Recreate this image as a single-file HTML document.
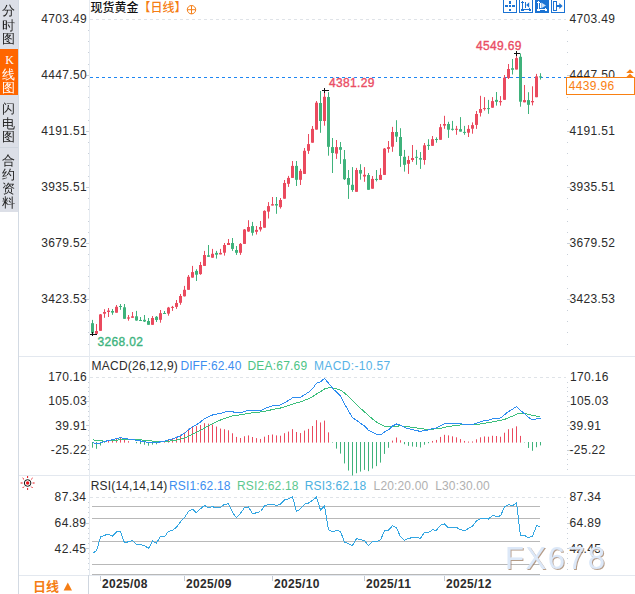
<!DOCTYPE html>
<html><head><meta charset="utf-8"><title>现货黄金 日线</title>
<style>
html,body{margin:0;padding:0;background:#fff;}
body{width:635px;height:594px;overflow:hidden;position:relative;}
svg{position:absolute;left:0;top:0;display:block;}
.n{font-family:"Liberation Sans",Arial,sans-serif;font-size:12px;fill:#2b2b2b;letter-spacing:0.35px;}
.cj{font-family:"Liberation Sans","Noto Sans CJK SC",sans-serif;}
.b{font-weight:bold;}
</style></head>
<body>
<svg width="635" height="594" viewBox="0 0 635 594">
<!-- sidebar -->
<rect x="0" y="0" width="18" height="212" fill="#dcdfe7"/>
<rect x="0" y="49" width="18" height="46" fill="#ff6600"/>
<rect x="0" y="147" width="18" height="1" fill="#cfd5de"/>
<rect x="18" y="0" width="1" height="594" fill="#d3dae3"/>
<g font-family="'Liberation Sans','WenQuanYi Zen Hei',sans-serif" font-size="13" fill="#222">
<text x="2" y="15.1">分</text><text x="2" y="30.25">时</text><text x="2" y="43.4">图</text>
<text x="2" y="113.15">闪</text><text x="2" y="127.75">电</text><text x="2" y="141.45">图</text>
<text x="2" y="165.05">合</text><text x="2" y="178.5">约</text><text x="2" y="192.95">资</text><text x="2" y="207.3">料</text>
</g>
<g font-size="13" fill="#fff">
<text x="5.2" y="63.8" font-family="Liberation Serif,serif" font-size="12">K</text>
<text x="2" y="79" font-family="'Liberation Sans','WenQuanYi Zen Hei',sans-serif">线</text><text x="2" y="92.2" font-family="'Liberation Sans','WenQuanYi Zen Hei',sans-serif">图</text>
</g>

<!-- panel dividers -->
<rect x="19" y="356" width="616" height="1" fill="#e3e8ef"/>
<rect x="19" y="475" width="616" height="1" fill="#e3e8ef"/>
<rect x="19" y="575" width="616" height="1" fill="#e3e8ef"/>
<rect x="88" y="575" width="1" height="19" fill="#cfd6df"/>
<!-- left axis line -->
<rect x="89" y="0" width="1" height="575" fill="#e6ebf1"/>

<!-- top dashed grid lines -->
<g stroke="#dfe3e8" stroke-width="1" stroke-dasharray="3,3">
<line x1="90" y1="19.5" x2="566" y2="19.5"/>
<line x1="90" y1="377.5" x2="566" y2="377.5"/>
<line x1="90" y1="497.5" x2="566" y2="497.5"/>
</g>

<!-- axis ticks -->
<g id="ticks" fill="#c9d0d9"><rect x="88" y="30" width="1" height="1"/><rect x="567" y="30" width="1" height="1"/><rect x="88" y="41" width="1" height="1"/><rect x="567" y="41" width="1" height="1"/><rect x="88" y="52" width="1" height="1"/><rect x="567" y="52" width="1" height="1"/><rect x="88" y="64" width="1" height="1"/><rect x="567" y="64" width="1" height="1"/><rect x="86" y="75" width="3" height="1"/><rect x="567" y="75" width="3" height="1"/><rect x="88" y="86" width="1" height="1"/><rect x="567" y="86" width="1" height="1"/><rect x="88" y="97" width="1" height="1"/><rect x="567" y="97" width="1" height="1"/><rect x="88" y="109" width="1" height="1"/><rect x="567" y="109" width="1" height="1"/><rect x="88" y="120" width="1" height="1"/><rect x="567" y="120" width="1" height="1"/><rect x="86" y="131" width="3" height="1"/><rect x="567" y="131" width="3" height="1"/><rect x="88" y="142" width="1" height="1"/><rect x="567" y="142" width="1" height="1"/><rect x="88" y="153" width="1" height="1"/><rect x="567" y="153" width="1" height="1"/><rect x="88" y="165" width="1" height="1"/><rect x="567" y="165" width="1" height="1"/><rect x="88" y="176" width="1" height="1"/><rect x="567" y="176" width="1" height="1"/><rect x="86" y="187" width="3" height="1"/><rect x="567" y="187" width="3" height="1"/><rect x="88" y="198" width="1" height="1"/><rect x="567" y="198" width="1" height="1"/><rect x="88" y="209" width="1" height="1"/><rect x="567" y="209" width="1" height="1"/><rect x="88" y="221" width="1" height="1"/><rect x="567" y="221" width="1" height="1"/><rect x="88" y="232" width="1" height="1"/><rect x="567" y="232" width="1" height="1"/><rect x="86" y="243" width="3" height="1"/><rect x="567" y="243" width="3" height="1"/><rect x="88" y="254" width="1" height="1"/><rect x="567" y="254" width="1" height="1"/><rect x="88" y="265" width="1" height="1"/><rect x="567" y="265" width="1" height="1"/><rect x="88" y="276" width="1" height="1"/><rect x="567" y="276" width="1" height="1"/><rect x="88" y="288" width="1" height="1"/><rect x="567" y="288" width="1" height="1"/><rect x="86" y="299" width="3" height="1"/><rect x="567" y="299" width="3" height="1"/><rect x="88" y="310" width="1" height="1"/><rect x="567" y="310" width="1" height="1"/><rect x="88" y="321" width="1" height="1"/><rect x="567" y="321" width="1" height="1"/><rect x="88" y="332" width="1" height="1"/><rect x="567" y="332" width="1" height="1"/><rect x="88" y="344" width="1" height="1"/><rect x="567" y="344" width="1" height="1"/><rect x="88" y="382" width="1" height="1"/><rect x="567" y="382" width="1" height="1"/><rect x="88" y="387" width="1" height="1"/><rect x="567" y="387" width="1" height="1"/><rect x="88" y="391" width="1" height="1"/><rect x="567" y="391" width="1" height="1"/><rect x="88" y="396" width="1" height="1"/><rect x="567" y="396" width="1" height="1"/><rect x="86" y="401" width="3" height="1"/><rect x="567" y="401" width="3" height="1"/><rect x="88" y="406" width="1" height="1"/><rect x="567" y="406" width="1" height="1"/><rect x="88" y="411" width="1" height="1"/><rect x="567" y="411" width="1" height="1"/><rect x="88" y="416" width="1" height="1"/><rect x="567" y="416" width="1" height="1"/><rect x="88" y="420" width="1" height="1"/><rect x="567" y="420" width="1" height="1"/><rect x="86" y="425" width="3" height="1"/><rect x="567" y="425" width="3" height="1"/><rect x="88" y="430" width="1" height="1"/><rect x="567" y="430" width="1" height="1"/><rect x="88" y="435" width="1" height="1"/><rect x="567" y="435" width="1" height="1"/><rect x="88" y="440" width="1" height="1"/><rect x="567" y="440" width="1" height="1"/><rect x="88" y="445" width="1" height="1"/><rect x="567" y="445" width="1" height="1"/><rect x="86" y="450" width="3" height="1"/><rect x="567" y="450" width="3" height="1"/><rect x="88" y="454" width="1" height="1"/><rect x="567" y="454" width="1" height="1"/><rect x="88" y="459" width="1" height="1"/><rect x="567" y="459" width="1" height="1"/><rect x="88" y="464" width="1" height="1"/><rect x="567" y="464" width="1" height="1"/><rect x="88" y="469" width="1" height="1"/><rect x="567" y="469" width="1" height="1"/><rect x="88" y="502" width="1" height="1"/><rect x="567" y="502" width="1" height="1"/><rect x="88" y="507" width="1" height="1"/><rect x="567" y="507" width="1" height="1"/><rect x="88" y="512" width="1" height="1"/><rect x="567" y="512" width="1" height="1"/><rect x="88" y="517" width="1" height="1"/><rect x="567" y="517" width="1" height="1"/><rect x="86" y="523" width="3" height="1"/><rect x="567" y="523" width="3" height="1"/><rect x="88" y="528" width="1" height="1"/><rect x="567" y="528" width="1" height="1"/><rect x="88" y="533" width="1" height="1"/><rect x="567" y="533" width="1" height="1"/><rect x="88" y="538" width="1" height="1"/><rect x="567" y="538" width="1" height="1"/><rect x="88" y="543" width="1" height="1"/><rect x="567" y="543" width="1" height="1"/><rect x="86" y="548" width="3" height="1"/><rect x="567" y="548" width="3" height="1"/><rect x="88" y="553" width="1" height="1"/><rect x="567" y="553" width="1" height="1"/><rect x="88" y="558" width="1" height="1"/><rect x="567" y="558" width="1" height="1"/><rect x="88" y="563" width="1" height="1"/><rect x="567" y="563" width="1" height="1"/><rect x="88" y="569" width="1" height="1"/><rect x="567" y="569" width="1" height="1"/></g>

<!-- left labels main -->
<g class="n" text-anchor="end">
<text x="87" y="23">4703.49</text>
<text x="87" y="79">4447.50</text>
<text x="87" y="135">4191.51</text>
<text x="87" y="191">3935.51</text>
<text x="87" y="247">3679.52</text>
<text x="87" y="303">3423.53</text>
<text x="87" y="381.3">170.16</text>
<text x="87" y="405">105.03</text>
<text x="87" y="430.3">39.91</text>
<text x="87" y="454.3">-25.22</text>
<text x="86.4" y="501">87.34</text>
<text x="86.4" y="527">64.89</text>
<text x="86.4" y="552.5">42.45</text>
</g>

<!-- right labels -->
<g class="n">
<text x="569.5" y="23">4703.49</text>
<text x="569.5" y="79">4447.50</text>
<text x="569.5" y="135">4191.51</text>
<text x="569.5" y="191">3935.51</text>
<text x="569.5" y="247">3679.52</text>
<text x="569.5" y="303">3423.53</text>
<text x="570" y="381.3">170.16</text>
<text x="570" y="405">105.03</text>
<text x="569.5" y="430.3">39.91</text>
<text x="569.5" y="454.3">-25.22</text>
<text x="569.5" y="501">87.34</text>
<text x="569.5" y="527">64.89</text>
<text x="569.5" y="552.5">42.45</text>
</g>

<!-- title -->
<text class="cj" x="90.5" y="11.8" font-size="12" font-weight="500" fill="#111">现货黄金<tspan fill="#f57d14">【日线】</tspan></text>
<g stroke="#f57d14" stroke-width="1" fill="none"><circle cx="191.5" cy="9.7" r="4.2"/><line x1="187.3" y1="9.7" x2="195.7" y2="9.7"/><line x1="191.5" y1="5.5" x2="191.5" y2="13.9"/></g>

<!-- toolbar -->
<g shape-rendering="crispEdges">
<rect x="503.5" y="-2.5" width="13" height="15" fill="#fff" stroke="#1b73d3"/>
<g fill="#1b73d3">
<rect x="509" y="1" width="2" height="2.5"/><rect x="509" y="5" width="2" height="2"/><rect x="509" y="8.5" width="2" height="2.5"/>
<rect x="505" y="5" width="3" height="2"/><rect x="512" y="5" width="3" height="2"/>
</g>
<rect x="519.5" y="-2.5" width="13" height="15" fill="#fff" stroke="#1b73d3"/>
<g fill="#1b73d3">
<rect x="522" y="1" width="1" height="10"/><rect x="521" y="9" width="10" height="1"/>
<rect x="521" y="2" width="3" height="1"/><rect x="521.5" y="1.5" width="2" height="1"/>
<rect x="529" y="8" width="1" height="3"/><rect x="530" y="8.5" width="1" height="2"/>
<rect x="521" y="10" width="3" height="1"/>
<rect x="525" y="2" width="1" height="6"/>
</g>
<path d="M529.2 2.3 L526.2 5 L529.2 7.7 Z" fill="#1b73d3" shape-rendering="auto"/>
<rect x="535" y="-3" width="14" height="16" fill="#1b73d3"/>
<g fill="#fff">
<rect x="538" y="1" width="1" height="10"/><rect x="537" y="9" width="10" height="1"/>
<rect x="537" y="2" width="3" height="1"/><rect x="537.5" y="1.5" width="2" height="1"/>
<rect x="545" y="8" width="1" height="3"/><rect x="546" y="8.5" width="1" height="2"/>
<rect x="537" y="10" width="3" height="1"/>
<rect x="540" y="3" width="1" height="5"/>
</g>
<path d="M541.3 2.5 L546 5.4 L541.3 8.3 Z" fill="#cfe2f8" shape-rendering="auto"/>
<rect x="551.5" y="-2.5" width="13" height="15" fill="#fff" stroke="#1b73d3"/>
<rect x="553.5" y="1.5" width="3" height="9" fill="none" stroke="#1b73d3"/>
<g fill="#1b73d3"><rect x="556" y="5" width="4" height="2"/></g>
<path d="M559.3 3 L562.6 6 L559.3 9 Z" fill="#1b73d3" shape-rendering="auto"/>
</g>

<!-- price line -->
<line x1="90" y1="77.5" x2="566" y2="77.5" stroke="#1e86f2" stroke-width="1" stroke-dasharray="3,3"/>

<!-- candles -->
<g id="candles">
<rect x="92" y="319.9" width="1" height="14.5" fill="#3fb27b"/>
<rect x="91" y="323.2" width="3" height="10.1" fill="#3fb27b"/>
<rect x="96" y="324" width="1" height="9.8" fill="#ea4a5e"/>
<rect x="95" y="331" width="3" height="2.8" fill="#ea4a5e"/>
<rect x="100" y="314" width="1" height="16.8" fill="#ea4a5e"/>
<rect x="99" y="314.4" width="3" height="16.4" fill="#ea4a5e"/>
<rect x="104" y="309.2" width="1" height="8.6" fill="#ea4a5e"/>
<rect x="103" y="312" width="3" height="1.7" fill="#ea4a5e"/>
<rect x="108" y="308" width="1" height="9" fill="#ea4a5e"/>
<rect x="107" y="310.6" width="3" height="1.4" fill="#ea4a5e"/>
<rect x="112" y="309" width="1" height="5.8" fill="#3fb27b"/>
<rect x="111" y="311" width="3" height="1.6" fill="#3fb27b"/>
<rect x="116" y="305" width="1" height="7.7" fill="#ea4a5e"/>
<rect x="115" y="306.8" width="3" height="5.9" fill="#ea4a5e"/>
<rect x="120" y="304" width="1" height="5.8" fill="#3fb27b"/>
<rect x="119" y="306" width="3" height="1" fill="#3fb27b"/>
<rect x="124" y="304" width="1" height="14.8" fill="#3fb27b"/>
<rect x="123" y="307.3" width="3" height="11.5" fill="#3fb27b"/>
<rect x="128" y="315" width="1" height="5.7" fill="#ea4a5e"/>
<rect x="127" y="317.4" width="3" height="1.2" fill="#ea4a5e"/>
<rect x="132" y="312" width="1" height="5.8" fill="#ea4a5e"/>
<rect x="131" y="316.3" width="3" height="1.5" fill="#ea4a5e"/>
<rect x="136" y="310.9" width="1" height="9.8" fill="#3fb27b"/>
<rect x="135" y="316.3" width="3" height="4.2" fill="#3fb27b"/>
<rect x="140" y="317" width="1" height="3.7" fill="#3fb27b"/>
<rect x="139" y="320" width="3" height="1" fill="#3fb27b"/>
<rect x="144" y="315" width="1" height="7" fill="#3fb27b"/>
<rect x="143" y="319.8" width="3" height="1.7" fill="#3fb27b"/>
<rect x="148" y="318" width="1" height="6.8" fill="#3fb27b"/>
<rect x="147" y="321" width="3" height="3.8" fill="#3fb27b"/>
<rect x="152" y="316" width="1" height="8.8" fill="#ea4a5e"/>
<rect x="151" y="318" width="3" height="6.8" fill="#ea4a5e"/>
<rect x="156" y="316" width="1" height="6" fill="#3fb27b"/>
<rect x="155" y="316.8" width="3" height="3.2" fill="#3fb27b"/>
<rect x="160" y="310" width="1" height="12.7" fill="#ea4a5e"/>
<rect x="159" y="313.2" width="3" height="6.6" fill="#ea4a5e"/>
<rect x="164" y="311" width="1" height="2.7" fill="#3fb27b"/>
<rect x="163" y="313" width="3" height="1" fill="#3fb27b"/>
<rect x="168" y="306.9" width="1" height="8.8" fill="#ea4a5e"/>
<rect x="167" y="307.6" width="3" height="6" fill="#ea4a5e"/>
<rect x="172" y="305.9" width="1" height="5" fill="#ea4a5e"/>
<rect x="171" y="306.9" width="3" height="1" fill="#ea4a5e"/>
<rect x="176" y="300" width="1" height="8.9" fill="#ea4a5e"/>
<rect x="175" y="303" width="3" height="3.9" fill="#ea4a5e"/>
<rect x="180" y="294" width="1" height="10.8" fill="#ea4a5e"/>
<rect x="179" y="296" width="3" height="6.8" fill="#ea4a5e"/>
<rect x="184" y="285.9" width="1" height="10.6" fill="#ea4a5e"/>
<rect x="183" y="289.8" width="3" height="6.5" fill="#ea4a5e"/>
<rect x="188" y="275" width="1" height="14.8" fill="#ea4a5e"/>
<rect x="187" y="276.8" width="3" height="13" fill="#ea4a5e"/>
<rect x="192" y="265.9" width="1" height="11.7" fill="#ea4a5e"/>
<rect x="191" y="272.1" width="3" height="5.5" fill="#ea4a5e"/>
<rect x="196" y="269.2" width="1" height="11.8" fill="#3fb27b"/>
<rect x="195" y="270.9" width="3" height="3.8" fill="#3fb27b"/>
<rect x="200" y="261.9" width="1" height="12.9" fill="#ea4a5e"/>
<rect x="199" y="265" width="3" height="9.1" fill="#ea4a5e"/>
<rect x="204" y="250.9" width="1" height="15" fill="#ea4a5e"/>
<rect x="203" y="255" width="3" height="10.9" fill="#ea4a5e"/>
<rect x="208" y="245" width="1" height="11.8" fill="#3fb27b"/>
<rect x="207" y="255.3" width="3" height="1.5" fill="#3fb27b"/>
<rect x="212" y="248.9" width="1" height="8.8" fill="#ea4a5e"/>
<rect x="211" y="253.8" width="3" height="3.9" fill="#ea4a5e"/>
<rect x="216" y="250.9" width="1" height="7.7" fill="#3fb27b"/>
<rect x="215" y="252.9" width="3" height="1.8" fill="#3fb27b"/>
<rect x="220" y="248.9" width="1" height="5.5" fill="#ea4a5e"/>
<rect x="219" y="252.9" width="3" height="1.5" fill="#ea4a5e"/>
<rect x="224" y="243" width="1" height="12.6" fill="#ea4a5e"/>
<rect x="223" y="245" width="3" height="7.7" fill="#ea4a5e"/>
<rect x="228" y="239" width="1" height="6" fill="#ea4a5e"/>
<rect x="227" y="243" width="3" height="2" fill="#ea4a5e"/>
<rect x="232" y="238" width="1" height="12.9" fill="#3fb27b"/>
<rect x="231" y="243" width="3" height="5.9" fill="#3fb27b"/>
<rect x="236" y="246" width="1" height="8.9" fill="#3fb27b"/>
<rect x="235" y="250" width="3" height="2.8" fill="#3fb27b"/>
<rect x="240" y="243" width="1" height="11.9" fill="#ea4a5e"/>
<rect x="239" y="243.9" width="3" height="8.9" fill="#ea4a5e"/>
<rect x="244" y="229" width="1" height="14.9" fill="#ea4a5e"/>
<rect x="243" y="229.5" width="3" height="14.4" fill="#ea4a5e"/>
<rect x="248" y="220.2" width="1" height="11.6" fill="#ea4a5e"/>
<rect x="247" y="227" width="3" height="4.5" fill="#ea4a5e"/>
<rect x="252" y="221.9" width="1" height="13.7" fill="#3fb27b"/>
<rect x="251" y="226.1" width="3" height="6.7" fill="#3fb27b"/>
<rect x="256" y="226" width="1" height="8.5" fill="#ea4a5e"/>
<rect x="255" y="229.9" width="3" height="1.9" fill="#ea4a5e"/>
<rect x="260" y="221" width="1" height="10.5" fill="#ea4a5e"/>
<rect x="259" y="227" width="3" height="2.5" fill="#ea4a5e"/>
<rect x="264" y="210.3" width="1" height="17.4" fill="#ea4a5e"/>
<rect x="263" y="210.9" width="3" height="16.8" fill="#ea4a5e"/>
<rect x="268" y="202.1" width="1" height="16.4" fill="#ea4a5e"/>
<rect x="267" y="206.1" width="3" height="5.5" fill="#ea4a5e"/>
<rect x="272" y="197" width="1" height="8.5" fill="#ea4a5e"/>
<rect x="271" y="204.2" width="3" height="1.3" fill="#ea4a5e"/>
<rect x="276" y="197" width="1" height="16.8" fill="#3fb27b"/>
<rect x="275" y="204" width="3" height="1.5" fill="#3fb27b"/>
<rect x="280" y="198" width="1" height="10.6" fill="#ea4a5e"/>
<rect x="279" y="200" width="3" height="7.1" fill="#ea4a5e"/>
<rect x="284" y="180" width="1" height="18.7" fill="#ea4a5e"/>
<rect x="283" y="183" width="3" height="15.7" fill="#ea4a5e"/>
<rect x="288" y="175.9" width="1" height="11" fill="#ea4a5e"/>
<rect x="287" y="177.9" width="3" height="5.9" fill="#ea4a5e"/>
<rect x="292" y="161" width="1" height="16.9" fill="#ea4a5e"/>
<rect x="291" y="165.9" width="3" height="12" fill="#ea4a5e"/>
<rect x="296" y="161" width="1" height="25" fill="#3fb27b"/>
<rect x="295" y="165.9" width="3" height="13.9" fill="#3fb27b"/>
<rect x="300" y="168.9" width="1" height="16.1" fill="#ea4a5e"/>
<rect x="299" y="170.9" width="3" height="8.9" fill="#ea4a5e"/>
<rect x="304" y="148" width="1" height="25.9" fill="#ea4a5e"/>
<rect x="303" y="150.8" width="3" height="23.1" fill="#ea4a5e"/>
<rect x="308" y="134" width="1" height="19.9" fill="#ea4a5e"/>
<rect x="307" y="144.1" width="3" height="6.7" fill="#ea4a5e"/>
<rect x="312" y="126" width="1" height="16.7" fill="#ea4a5e"/>
<rect x="311" y="128.9" width="3" height="13.8" fill="#ea4a5e"/>
<rect x="316" y="101" width="1" height="28.6" fill="#ea4a5e"/>
<rect x="315" y="102.7" width="3" height="26.9" fill="#ea4a5e"/>
<rect x="320" y="91" width="1" height="41.8" fill="#3fb27b"/>
<rect x="319" y="103" width="3" height="18" fill="#3fb27b"/>
<rect x="324" y="90.4" width="1" height="35.3" fill="#ea4a5e"/>
<rect x="323" y="96.8" width="3" height="24.2" fill="#ea4a5e"/>
<rect x="328" y="92.1" width="1" height="63.6" fill="#3fb27b"/>
<rect x="327" y="97" width="3" height="49.8" fill="#3fb27b"/>
<rect x="332" y="138" width="1" height="35" fill="#3fb27b"/>
<rect x="331" y="147.1" width="3" height="5.9" fill="#3fb27b"/>
<rect x="336" y="140" width="1" height="18.9" fill="#ea4a5e"/>
<rect x="335" y="147.1" width="3" height="6.5" fill="#ea4a5e"/>
<rect x="340" y="142" width="1" height="21.9" fill="#3fb27b"/>
<rect x="339" y="147.1" width="3" height="2.7" fill="#3fb27b"/>
<rect x="344" y="150" width="1" height="30" fill="#3fb27b"/>
<rect x="343" y="159.2" width="3" height="20" fill="#3fb27b"/>
<rect x="348" y="170" width="1" height="28.9" fill="#3fb27b"/>
<rect x="347" y="178" width="3" height="6.8" fill="#3fb27b"/>
<rect x="352" y="167.1" width="1" height="24.7" fill="#3fb27b"/>
<rect x="351" y="184.8" width="3" height="5.2" fill="#3fb27b"/>
<rect x="356" y="167.9" width="1" height="23.9" fill="#ea4a5e"/>
<rect x="355" y="170" width="3" height="21.8" fill="#ea4a5e"/>
<rect x="360" y="164.2" width="1" height="15.5" fill="#3fb27b"/>
<rect x="359" y="170" width="3" height="3.6" fill="#3fb27b"/>
<rect x="364" y="167.1" width="1" height="14.7" fill="#ea4a5e"/>
<rect x="363" y="174.8" width="3" height="1.7" fill="#ea4a5e"/>
<rect x="368" y="173" width="1" height="16.8" fill="#3fb27b"/>
<rect x="367" y="175" width="3" height="14.8" fill="#3fb27b"/>
<rect x="372" y="176" width="1" height="12.7" fill="#ea4a5e"/>
<rect x="371" y="178.9" width="3" height="9.8" fill="#ea4a5e"/>
<rect x="376" y="170" width="1" height="11.4" fill="#3fb27b"/>
<rect x="375" y="178.9" width="3" height="1.1" fill="#3fb27b"/>
<rect x="380" y="168.2" width="1" height="11.7" fill="#ea4a5e"/>
<rect x="379" y="174.9" width="3" height="5" fill="#ea4a5e"/>
<rect x="384" y="148" width="1" height="26.9" fill="#ea4a5e"/>
<rect x="383" y="148.6" width="3" height="26.3" fill="#ea4a5e"/>
<rect x="388" y="141" width="1" height="11.7" fill="#ea4a5e"/>
<rect x="387" y="147.1" width="3" height="1.8" fill="#ea4a5e"/>
<rect x="392" y="126.9" width="1" height="24.9" fill="#ea4a5e"/>
<rect x="391" y="132" width="3" height="14.7" fill="#ea4a5e"/>
<rect x="396" y="120.2" width="1" height="21.8" fill="#3fb27b"/>
<rect x="395" y="132" width="3" height="4.6" fill="#3fb27b"/>
<rect x="400" y="128.2" width="1" height="38.7" fill="#3fb27b"/>
<rect x="399" y="137" width="3" height="19" fill="#3fb27b"/>
<rect x="404" y="149.9" width="1" height="21.7" fill="#3fb27b"/>
<rect x="403" y="156.8" width="3" height="8" fill="#3fb27b"/>
<rect x="408" y="155.9" width="1" height="18" fill="#ea4a5e"/>
<rect x="407" y="160" width="3" height="3.8" fill="#ea4a5e"/>
<rect x="412" y="145" width="1" height="16.9" fill="#ea4a5e"/>
<rect x="411" y="158" width="3" height="2" fill="#ea4a5e"/>
<rect x="416" y="149.9" width="1" height="14.9" fill="#3fb27b"/>
<rect x="415" y="156.8" width="3" height="1" fill="#3fb27b"/>
<rect x="420" y="152" width="1" height="16.9" fill="#3fb27b"/>
<rect x="419" y="158.1" width="3" height="1.5" fill="#3fb27b"/>
<rect x="424" y="143" width="1" height="21.7" fill="#ea4a5e"/>
<rect x="423" y="145.3" width="3" height="14.7" fill="#ea4a5e"/>
<rect x="428" y="139.2" width="1" height="10.7" fill="#3fb27b"/>
<rect x="427" y="144.9" width="3" height="1" fill="#3fb27b"/>
<rect x="432" y="136" width="1" height="9.8" fill="#ea4a5e"/>
<rect x="431" y="139.2" width="3" height="6.6" fill="#ea4a5e"/>
<rect x="436" y="137.3" width="1" height="5.4" fill="#3fb27b"/>
<rect x="435" y="139" width="3" height="1" fill="#3fb27b"/>
<rect x="440" y="124" width="1" height="15.8" fill="#ea4a5e"/>
<rect x="439" y="127.2" width="3" height="12.6" fill="#ea4a5e"/>
<rect x="444" y="115.8" width="1" height="13" fill="#ea4a5e"/>
<rect x="443" y="124" width="3" height="1.6" fill="#ea4a5e"/>
<rect x="448" y="121.8" width="1" height="16.1" fill="#3fb27b"/>
<rect x="447" y="124" width="3" height="5.7" fill="#3fb27b"/>
<rect x="452" y="120.9" width="1" height="9.7" fill="#3fb27b"/>
<rect x="451" y="128.8" width="3" height="1" fill="#3fb27b"/>
<rect x="456" y="125.9" width="1" height="8.9" fill="#ea4a5e"/>
<rect x="455" y="128.8" width="3" height="1" fill="#ea4a5e"/>
<rect x="460" y="117.1" width="1" height="14.5" fill="#3fb27b"/>
<rect x="459" y="129.1" width="3" height="2.5" fill="#3fb27b"/>
<rect x="464" y="125.9" width="1" height="8.9" fill="#3fb27b"/>
<rect x="463" y="131.9" width="3" height="1" fill="#3fb27b"/>
<rect x="468" y="125.1" width="1" height="11.9" fill="#ea4a5e"/>
<rect x="467" y="128.9" width="3" height="3.8" fill="#ea4a5e"/>
<rect x="472" y="122.4" width="1" height="11.3" fill="#ea4a5e"/>
<rect x="471" y="125.1" width="3" height="3.6" fill="#ea4a5e"/>
<rect x="476" y="111" width="1" height="17.9" fill="#ea4a5e"/>
<rect x="475" y="114" width="3" height="10.9" fill="#ea4a5e"/>
<rect x="480" y="95.8" width="1" height="20.7" fill="#ea4a5e"/>
<rect x="479" y="109" width="3" height="3.8" fill="#ea4a5e"/>
<rect x="484" y="97.1" width="1" height="13.5" fill="#ea4a5e"/>
<rect x="483" y="108.1" width="3" height="1" fill="#ea4a5e"/>
<rect x="488" y="99.9" width="1" height="13.9" fill="#3fb27b"/>
<rect x="487" y="108.1" width="3" height="1" fill="#3fb27b"/>
<rect x="492" y="97.1" width="1" height="10.6" fill="#ea4a5e"/>
<rect x="491" y="101.1" width="3" height="6.6" fill="#ea4a5e"/>
<rect x="496" y="92" width="1" height="13.6" fill="#3fb27b"/>
<rect x="495" y="99.9" width="3" height="1.9" fill="#3fb27b"/>
<rect x="500" y="96.1" width="1" height="9.5" fill="#ea4a5e"/>
<rect x="499" y="101.1" width="3" height="1.1" fill="#ea4a5e"/>
<rect x="504" y="75" width="1" height="24.8" fill="#ea4a5e"/>
<rect x="503" y="77.7" width="3" height="22.1" fill="#ea4a5e"/>
<rect x="508" y="64" width="1" height="15" fill="#ea4a5e"/>
<rect x="507" y="69" width="3" height="9" fill="#ea4a5e"/>
<rect x="512" y="59" width="1" height="15.5" fill="#3fb27b"/>
<rect x="511" y="68.2" width="3" height="1.6" fill="#3fb27b"/>
<rect x="516" y="53.4" width="1" height="16.1" fill="#ea4a5e"/>
<rect x="515" y="58.1" width="3" height="11.4" fill="#ea4a5e"/>
<rect x="520" y="53.4" width="1" height="53.3" fill="#3fb27b"/>
<rect x="519" y="56.8" width="3" height="44.9" fill="#3fb27b"/>
<rect x="524" y="85" width="1" height="17.3" fill="#ea4a5e"/>
<rect x="523" y="100.1" width="3" height="2.2" fill="#ea4a5e"/>
<rect x="528" y="92.2" width="1" height="21.8" fill="#3fb27b"/>
<rect x="527" y="100.1" width="3" height="4.7" fill="#3fb27b"/>
<rect x="532" y="86.3" width="1" height="19.1" fill="#ea4a5e"/>
<rect x="531" y="101" width="3" height="1.3" fill="#ea4a5e"/>
<rect x="536" y="73.9" width="1" height="23.3" fill="#ea4a5e"/>
<rect x="535" y="76.4" width="3" height="20.8" fill="#ea4a5e"/>
<rect x="540" y="73.2" width="1" height="6.4" fill="#3fb27b"/>
<rect x="539" y="76.4" width="3" height="1" fill="#3fb27b"/>
</g>

<!-- high/low markers -->
<g fill="#111">
<rect x="322" y="90" width="7" height="1"/><rect x="324" y="88" width="1" height="5"/>
<rect x="514" y="53" width="6" height="1"/><rect x="516" y="51" width="1" height="5"/>
<rect x="90" y="334" width="7" height="1"/><rect x="92" y="332" width="1" height="4"/>
</g>
<g class="n" font-size="12" stroke-width="0.35">
<text x="329" y="87" fill="#ea4d64" stroke="#ea4d64">4381.29</text>
<text x="476" y="50" fill="#ea4d64" stroke="#ea4d64">4549.69</text>
<text x="97.5" y="346" fill="#3db37e" stroke="#3db37e">3268.02</text>
</g>

<!-- last price box -->
<rect x="566.5" y="77.5" width="68" height="17" fill="#fff" stroke="#f98012"/>
<text class="n" x="568.8" y="89.6" style="fill:#f98012">4439.96</text>
<g fill="#f98012"><path d="M626.2 72.9 L630 69.2 L633.8 72.9 Z"/><path d="M626.2 77.2 L630 73.4 L633.8 77.2 Z"/></g>

<!-- MACD -->
<g class="n">
<text x="91.5" y="369.8" style="letter-spacing:0.25px">MACD(26,12,9)</text>
<text x="180.4" y="369.8" style="letter-spacing:0.1px" fill="#3d8ef0">DIFF:62.40</text>
<text x="247.5" y="369.8" style="letter-spacing:0.2px" fill="#4cc486">DEA:67.69</text>
<text x="314" y="369.8" fill="#57b2e6">MACD:-10.57</text>
</g>
<g id="macdbars">
<rect x="92" y="442" width="1" height="5.7" fill="#3fb27b"/>
<rect x="96" y="442" width="1" height="6.79" fill="#3fb27b"/>
<rect x="100" y="442" width="1" height="3.53" fill="#3fb27b"/>
<rect x="104" y="442" width="1" height="0.79" fill="#3fb27b"/>
<rect x="108" y="440.72" width="1" height="1.88" fill="#ea4a5e"/>
<rect x="112" y="439.94" width="1" height="2.66" fill="#ea4a5e"/>
<rect x="116" y="438.3" width="1" height="4.3" fill="#ea4a5e"/>
<rect x="120" y="437.49" width="1" height="5.11" fill="#ea4a5e"/>
<rect x="124" y="439.85" width="1" height="2.75" fill="#ea4a5e"/>
<rect x="128" y="441.17" width="1" height="1.43" fill="#ea4a5e"/>
<rect x="132" y="442" width="1" height="-0.17" fill="#3fb27b"/>
<rect x="136" y="442" width="1" height="1.2" fill="#3fb27b"/>
<rect x="140" y="442" width="1" height="2.07" fill="#3fb27b"/>
<rect x="144" y="442" width="1" height="2.71" fill="#3fb27b"/>
<rect x="148" y="442" width="1" height="3.7" fill="#3fb27b"/>
<rect x="152" y="442" width="1" height="2.66" fill="#3fb27b"/>
<rect x="156" y="442" width="1" height="2.3" fill="#3fb27b"/>
<rect x="160" y="442" width="1" height="0.48" fill="#3fb27b"/>
<rect x="164" y="441.42" width="1" height="1.18" fill="#ea4a5e"/>
<rect x="168" y="439.45" width="1" height="3.15" fill="#ea4a5e"/>
<rect x="172" y="438.21" width="1" height="4.39" fill="#ea4a5e"/>
<rect x="176" y="436.79" width="1" height="5.81" fill="#ea4a5e"/>
<rect x="180" y="434.67" width="1" height="7.93" fill="#ea4a5e"/>
<rect x="184" y="432.42" width="1" height="10.18" fill="#ea4a5e"/>
<rect x="188" y="428.75" width="1" height="13.85" fill="#ea4a5e"/>
<rect x="192" y="426.22" width="1" height="16.38" fill="#ea4a5e"/>
<rect x="196" y="426.14" width="1" height="16.46" fill="#ea4a5e"/>
<rect x="200" y="424.98" width="1" height="17.62" fill="#ea4a5e"/>
<rect x="204" y="423.17" width="1" height="19.43" fill="#ea4a5e"/>
<rect x="208" y="423.66" width="1" height="18.94" fill="#ea4a5e"/>
<rect x="212" y="424.55" width="1" height="18.05" fill="#ea4a5e"/>
<rect x="216" y="426.55" width="1" height="16.05" fill="#ea4a5e"/>
<rect x="220" y="428.57" width="1" height="14.03" fill="#ea4a5e"/>
<rect x="224" y="429.22" width="1" height="13.38" fill="#ea4a5e"/>
<rect x="228" y="430.27" width="1" height="12.33" fill="#ea4a5e"/>
<rect x="232" y="433.27" width="1" height="9.33" fill="#ea4a5e"/>
<rect x="236" y="436.91" width="1" height="5.69" fill="#ea4a5e"/>
<rect x="240" y="438" width="1" height="4.6" fill="#ea4a5e"/>
<rect x="244" y="436.25" width="1" height="6.35" fill="#ea4a5e"/>
<rect x="248" y="435.41" width="1" height="7.19" fill="#ea4a5e"/>
<rect x="252" y="436.99" width="1" height="5.61" fill="#ea4a5e"/>
<rect x="256" y="438.13" width="1" height="4.47" fill="#ea4a5e"/>
<rect x="260" y="438.95" width="1" height="3.65" fill="#ea4a5e"/>
<rect x="264" y="436.66" width="1" height="5.94" fill="#ea4a5e"/>
<rect x="268" y="435.01" width="1" height="7.59" fill="#ea4a5e"/>
<rect x="272" y="434.49" width="1" height="8.11" fill="#ea4a5e"/>
<rect x="276" y="435.41" width="1" height="7.19" fill="#ea4a5e"/>
<rect x="280" y="435.74" width="1" height="6.86" fill="#ea4a5e"/>
<rect x="284" y="433.19" width="1" height="9.41" fill="#ea4a5e"/>
<rect x="288" y="431.57" width="1" height="11.03" fill="#ea4a5e"/>
<rect x="292" y="429.14" width="1" height="13.46" fill="#ea4a5e"/>
<rect x="296" y="431.99" width="1" height="10.61" fill="#ea4a5e"/>
<rect x="300" y="433.07" width="1" height="9.53" fill="#ea4a5e"/>
<rect x="304" y="430.57" width="1" height="12.03" fill="#ea4a5e"/>
<rect x="308" y="428.9" width="1" height="13.7" fill="#ea4a5e"/>
<rect x="312" y="426.01" width="1" height="16.59" fill="#ea4a5e"/>
<rect x="316" y="420.16" width="1" height="22.44" fill="#ea4a5e"/>
<rect x="320" y="422.47" width="1" height="20.13" fill="#ea4a5e"/>
<rect x="324" y="420.6" width="1" height="22" fill="#ea4a5e"/>
<rect x="328" y="432.35" width="1" height="10.25" fill="#ea4a5e"/>
<rect x="332" y="442" width="1" height="0.54" fill="#3fb27b"/>
<rect x="336" y="442" width="1" height="6.59" fill="#3fb27b"/>
<rect x="340" y="442" width="1" height="11.58" fill="#3fb27b"/>
<rect x="344" y="442" width="1" height="21.41" fill="#3fb27b"/>
<rect x="348" y="442" width="1" height="28.55" fill="#3fb27b"/>
<rect x="352" y="442" width="1" height="33.47" fill="#3fb27b"/>
<rect x="356" y="442" width="1" height="31.19" fill="#3fb27b"/>
<rect x="360" y="442" width="1" height="29.58" fill="#3fb27b"/>
<rect x="364" y="442" width="1" height="27.88" fill="#3fb27b"/>
<rect x="368" y="442" width="1" height="29.14" fill="#3fb27b"/>
<rect x="372" y="442" width="1" height="26.51" fill="#3fb27b"/>
<rect x="376" y="442" width="1" height="24.12" fill="#3fb27b"/>
<rect x="380" y="442" width="1" height="20.6" fill="#3fb27b"/>
<rect x="384" y="442" width="1" height="11.91" fill="#3fb27b"/>
<rect x="388" y="442" width="1" height="5.79" fill="#3fb27b"/>
<rect x="392" y="440.63" width="1" height="1.97" fill="#ea4a5e"/>
<rect x="396" y="437.49" width="1" height="5.11" fill="#ea4a5e"/>
<rect x="400" y="440.24" width="1" height="2.36" fill="#ea4a5e"/>
<rect x="404" y="442" width="1" height="2.24" fill="#3fb27b"/>
<rect x="408" y="442" width="1" height="3.87" fill="#3fb27b"/>
<rect x="412" y="442" width="1" height="4.51" fill="#3fb27b"/>
<rect x="416" y="442" width="1" height="4.87" fill="#3fb27b"/>
<rect x="420" y="442" width="1" height="5.49" fill="#3fb27b"/>
<rect x="424" y="442" width="1" height="2.72" fill="#3fb27b"/>
<rect x="428" y="442" width="1" height="1.17" fill="#3fb27b"/>
<rect x="432" y="440.93" width="1" height="1.67" fill="#ea4a5e"/>
<rect x="436" y="439.93" width="1" height="2.67" fill="#ea4a5e"/>
<rect x="440" y="436.9" width="1" height="5.7" fill="#ea4a5e"/>
<rect x="444" y="434.81" width="1" height="7.79" fill="#ea4a5e"/>
<rect x="448" y="435.37" width="1" height="7.23" fill="#ea4a5e"/>
<rect x="452" y="436.34" width="1" height="6.26" fill="#ea4a5e"/>
<rect x="456" y="437.32" width="1" height="5.28" fill="#ea4a5e"/>
<rect x="460" y="439.08" width="1" height="3.52" fill="#ea4a5e"/>
<rect x="464" y="440.92" width="1" height="1.68" fill="#ea4a5e"/>
<rect x="468" y="441.56" width="1" height="1.04" fill="#ea4a5e"/>
<rect x="472" y="441.45" width="1" height="1.15" fill="#ea4a5e"/>
<rect x="476" y="439.31" width="1" height="3.29" fill="#ea4a5e"/>
<rect x="480" y="437.32" width="1" height="5.28" fill="#ea4a5e"/>
<rect x="484" y="436.44" width="1" height="6.16" fill="#ea4a5e"/>
<rect x="488" y="436.71" width="1" height="5.89" fill="#ea4a5e"/>
<rect x="492" y="435.78" width="1" height="6.82" fill="#ea4a5e"/>
<rect x="496" y="436.02" width="1" height="6.58" fill="#ea4a5e"/>
<rect x="500" y="436.71" width="1" height="5.89" fill="#ea4a5e"/>
<rect x="504" y="432.71" width="1" height="9.89" fill="#ea4a5e"/>
<rect x="508" y="429.2" width="1" height="13.4" fill="#ea4a5e"/>
<rect x="512" y="428.28" width="1" height="14.32" fill="#ea4a5e"/>
<rect x="516" y="426.33" width="1" height="16.27" fill="#ea4a5e"/>
<rect x="520" y="435.89" width="1" height="6.71" fill="#ea4a5e"/>
<rect x="524" y="442" width="1" height="0.37" fill="#3fb27b"/>
<rect x="528" y="442" width="1" height="5.93" fill="#3fb27b"/>
<rect x="532" y="442" width="1" height="8.77" fill="#3fb27b"/>
<rect x="536" y="442" width="1" height="5.22" fill="#3fb27b"/>
<rect x="540" y="442" width="1" height="3.4" fill="#3fb27b"/>
</g>
<polyline points="92.5,439.61 96.5,440.48 100.5,440.95 104.5,441.07 108.5,440.94 112.5,440.7 116.5,440.27 120.5,439.73 124.5,439.48 128.5,439.41 132.5,439.41 136.5,439.58 140.5,439.87 144.5,440.23 148.5,440.72 152.5,441.08 156.5,441.39 160.5,441.47 164.5,441.43 168.5,441.13 172.5,440.68 176.5,440.06 180.5,439.17 184.5,437.99 188.5,436.36 192.5,434.42 196.5,432.46 200.5,430.36 204.5,428.03 208.5,425.76 212.5,423.6 216.5,421.7 220.5,420.04 224.5,418.47 228.5,417.03 232.5,415.96 236.5,415.35 240.5,414.88 244.5,414.18 248.5,413.38 252.5,412.78 256.5,412.32 260.5,411.97 264.5,411.32 268.5,410.48 272.5,409.56 276.5,408.76 280.5,408.01 284.5,406.93 288.5,405.65 292.5,404.07 296.5,402.84 300.5,401.75 304.5,400.35 308.5,398.73 312.5,396.76 316.5,394.06 320.5,391.64 324.5,388.99 328.5,387.81 332.5,387.9 336.5,388.75 340.5,390.22 344.5,392.92 348.5,396.52 352.5,400.72 356.5,404.65 360.5,408.37 364.5,411.88 368.5,415.55 372.5,418.89 376.5,421.93 380.5,424.53 384.5,426.04 388.5,426.79 392.5,426.64 396.5,426.1 400.5,425.91 404.5,426.21 408.5,426.72 412.5,427.31 416.5,427.94 420.5,428.66 424.5,429.02 428.5,429.19 432.5,429.08 436.5,428.85 440.5,428.24 444.5,427.36 448.5,426.56 452.5,425.88 456.5,425.32 460.5,424.98 464.5,424.87 468.5,424.84 472.5,424.79 476.5,424.48 480.5,423.92 484.5,423.25 488.5,422.62 492.5,421.86 496.5,421.14 500.5,420.5 504.5,419.37 508.5,417.79 512.5,416.1 516.5,414.17 520.5,413.43 524.5,413.5 528.5,414.27 532.5,415.39 536.5,416.07 540.5,416.52" shape-rendering="crispEdges" fill="none" stroke="#3cbf7c" stroke-width="1"/>
<polyline points="92.5,442.56 96.5,443.98 100.5,442.81 104.5,441.57 108.5,440.4 112.5,439.77 116.5,438.52 120.5,437.57 124.5,438.51 128.5,439.09 132.5,439.43 136.5,440.29 140.5,441 144.5,441.68 148.5,442.67 152.5,442.5 156.5,442.64 160.5,441.81 164.5,441.23 168.5,439.96 172.5,438.89 176.5,437.55 180.5,435.6 184.5,433.31 188.5,429.84 192.5,426.62 196.5,424.63 200.5,421.95 204.5,418.71 208.5,416.69 212.5,414.98 216.5,414.07 220.5,413.43 224.5,412.18 228.5,411.26 232.5,411.7 236.5,412.91 240.5,412.98 244.5,411.41 248.5,410.19 252.5,410.38 256.5,410.49 260.5,410.54 264.5,408.75 268.5,407.08 272.5,405.91 276.5,405.57 280.5,404.98 284.5,402.62 288.5,400.53 292.5,397.74 296.5,397.94 300.5,397.39 304.5,394.73 308.5,392.28 312.5,388.86 316.5,383.24 320.5,381.98 324.5,378.39 328.5,383.08 332.5,388.27 336.5,392.14 340.5,396.11 344.5,403.73 348.5,410.89 352.5,417.56 356.5,420.35 360.5,423.26 364.5,425.92 368.5,430.22 372.5,432.24 376.5,434.09 380.5,434.93 384.5,432.09 388.5,429.78 392.5,426.06 396.5,423.95 400.5,425.13 404.5,427.43 408.5,428.76 412.5,429.67 416.5,430.48 420.5,431.5 424.5,430.48 428.5,429.88 432.5,428.65 436.5,427.91 440.5,425.79 444.5,423.87 448.5,423.35 452.5,423.14 456.5,423.08 460.5,423.62 464.5,424.43 468.5,424.71 472.5,424.62 476.5,423.23 480.5,421.68 484.5,420.57 488.5,420.07 492.5,418.85 496.5,418.25 500.5,417.96 504.5,414.82 508.5,411.49 512.5,409.34 516.5,406.44 520.5,410.48 524.5,413.78 528.5,417.33 532.5,419.87 536.5,418.78 540.5,418.32" shape-rendering="crispEdges" fill="none" stroke="#2d8cf0" stroke-width="1"/>

<!-- RSI -->
<g stroke="#b8b8b8" stroke-width="1">
<line x1="92" y1="506.5" x2="540" y2="506.5"/>
<line x1="92" y1="518.5" x2="540" y2="518.5"/>
<line x1="92" y1="541.5" x2="540" y2="541.5"/>
<line x1="92" y1="564.5" x2="540" y2="564.5"/>
<line x1="92" y1="574.5" x2="540" y2="574.5"/>
</g>
<polyline points="92.5,553.22 96.5,550.88 100.5,536.93 104.5,535.26 108.5,534.26 112.5,536.13 116.5,531.78 120.5,531.78 124.5,542.89 128.5,541.69 132.5,540.7 136.5,544.5 140.5,544.68 144.5,545.45 148.5,548.62 152.5,541.06 156.5,543.12 160.5,536.26 164.5,536.83 168.5,531.17 172.5,530.55 176.5,527.16 180.5,521.8 184.5,517.79 188.5,511.2 192.5,509.27 196.5,512.82 200.5,508.76 204.5,505.39 208.5,507.73 212.5,506.68 216.5,507.94 220.5,507.24 224.5,504.37 228.5,503.71 232.5,512.38 236.5,517.66 240.5,513.18 244.5,507.65 248.5,506.83 252.5,513.94 256.5,512.72 260.5,511.51 264.5,505.92 268.5,504.57 272.5,504.04 276.5,505.74 280.5,504.04 284.5,499.85 288.5,498.84 292.5,496.74 296.5,511.4 300.5,508.87 304.5,504.27 308.5,502.99 312.5,500.44 316.5,497.11 320.5,510.06 324.5,505.95 328.5,529.64 332.5,531.93 336.5,530.34 340.5,531.43 344.5,542.03 348.5,543.8 352.5,545.47 356.5,538.57 360.5,539.85 364.5,540.3 368.5,545.7 372.5,541.52 376.5,541.94 380.5,539.9 384.5,530.71 388.5,530.24 392.5,525.7 396.5,527.96 400.5,536.69 404.5,540.22 408.5,538.39 412.5,537.61 416.5,537.49 420.5,538.44 424.5,532.32 428.5,532.6 432.5,529.85 436.5,530.23 440.5,525.09 444.5,523.87 448.5,527.85 452.5,527.85 456.5,527.42 460.5,529.65 464.5,530.72 468.5,528.43 472.5,526.3 476.5,520.74 480.5,518.54 484.5,518.14 488.5,519.11 492.5,515.45 496.5,516.26 500.5,515.92 504.5,507.09 508.5,504.75 512.5,505.66 516.5,502.72 520.5,535.99 524.5,535.28 528.5,537.89 532.5,536.01 536.5,525.83 540.5,526.44" shape-rendering="crispEdges" fill="none" stroke="#34a6e2" stroke-width="1"/>
<g class="n">
<text x="90.8" y="489.6" style="letter-spacing:0.15px">RSI(14,14,14)</text>
<text x="169" y="489.6" style="letter-spacing:0.15px" fill="#3d8ef0">RSI1:62.18</text>
<text x="237" y="489.6" style="letter-spacing:0.15px" fill="#5cc88e">RSI2:62.18</text>
<text x="304.8" y="489.6" style="letter-spacing:0.15px" fill="#4cb0e0">RSI3:62.18</text>
<text x="373.6" y="489.6" style="letter-spacing:0.15px" fill="#b0b0b0">L20:20.00</text>
<text x="435.2" y="489.6" style="letter-spacing:0.15px" fill="#b0b0b0">L30:30.00</text>
</g>
<!-- sun icon -->
<g transform="translate(27.6,483)">
<circle r="3.3" fill="#fff" stroke="#111" stroke-width="1"/>
<circle r="1.7" fill="#e8141c"/>
<g stroke="#e8141c" stroke-width="1">
<line x1="0" y1="-5" x2="0" y2="-7"/><line x1="0" y1="5" x2="0" y2="7"/>
<line x1="-5" y1="0" x2="-7" y2="0"/><line x1="5" y1="0" x2="7" y2="0"/>
<line x1="3.6" y1="3.6" x2="5" y2="5"/><line x1="-3.6" y1="3.6" x2="-5" y2="5"/>
<line x1="3.6" y1="-3.6" x2="5" y2="-5"/><line x1="-3.6" y1="-3.6" x2="-5" y2="-5"/>
</g></g>

<!-- date axis -->
<g fill="#c3cad4">
<rect x="100" y="576" width="1" height="5"/><rect x="184" y="576" width="1" height="5"/><rect x="272" y="576" width="1" height="5"/><rect x="364" y="576" width="1" height="5"/><rect x="444" y="576" width="1" height="5"/>
</g>
<g class="n b" fill="#222">
<text x="102" y="588">2025/08</text>
<text x="186" y="588">2025/09</text>
<text x="274" y="588">2025/10</text>
<text x="366" y="588">2025/11</text>
<text x="446" y="588">2025/12</text>
</g>
<text class="cj b" x="33" y="590.5" font-size="13" fill="#f57d14">日线</text>
<path d="M63.6 590.5 L67.8 582.6 L72 590.5 Z" fill="#f57d14"/>
<!-- watermark -->
<defs><filter id="wsh" x="-10%" y="-10%" width="130%" height="130%"><feDropShadow dx="1" dy="1" stdDeviation="0.6" flood-color="#9c7c5e" flood-opacity="0.75"/></filter></defs>
<text x="505 525.5 547.8 567.4 587.8" y="569" font-family="Liberation Sans,Arial,sans-serif" font-size="31" fill="#dce8f8" filter="url(#wsh)">FX678</text>
</svg>
</body></html>
